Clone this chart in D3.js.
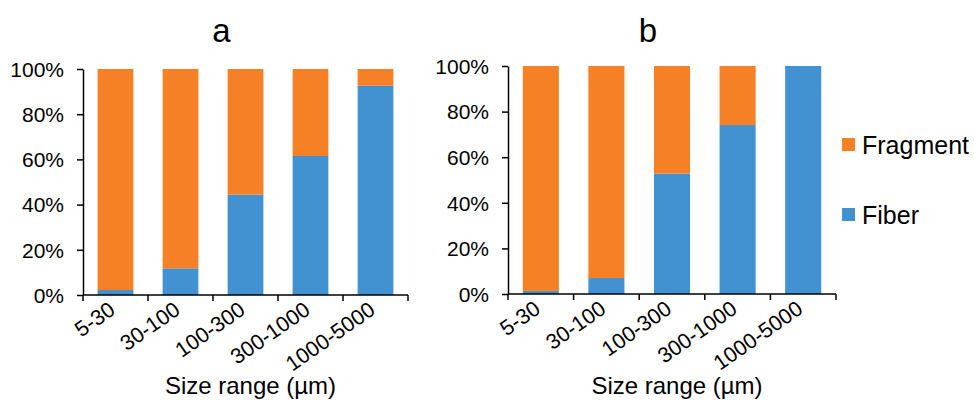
<!DOCTYPE html>
<html>
<head>
<meta charset="utf-8">
<script src="https://cdn.jsdelivr.net/npm/d3@7"></script>
<style>
  body { margin: 0; background: #fff; }
  text { font-family: "Liberation Sans", Arial, sans-serif; fill: #000; }
  .axis path, .axis line { stroke: #000; stroke-width: 1.5; }
</style>
</head>
<body>
<div id="chart"></div>
<script>
const sizeRanges = ["5-30", "30-100", "100-300", "300-1000", "1000-5000"];
const seriesNames = ["Fiber", "Fragment"];
const fiberA = [2.2, 11.8, 44.4, 61.5, 92.6];
const fiberB = [1.3, 7.0, 52.8, 74.1, 100];
const yTicks = [0, 20, 40, 60, 80, 100];

const color = d3.scaleOrdinal()
    .domain(seriesNames)
    .range(["#4291D1", "#F58026"]);

const svg = d3.select("#chart")
    .append("svg")
    .attr("width", 974)
    .attr("height", 401);

const panels = [
    { title: "a", fiber: fiberA, x0: 83, x1: 408, yTop: 69, yBot: 295 },
    { title: "b", fiber: fiberB, x0: 508, x1: 836, yTop: 66, yBot: 294 }
];

panels.forEach(p => {
    const g = svg.append("g");

    const x = d3.scaleBand()
        .domain(sizeRanges)
        .range([p.x0, p.x1])
        .paddingInner(0.45)
        .paddingOuter(0.225);

    const y = d3.scaleLinear()
        .domain([0, 100])
        .range([p.yBot, p.yTop]);

    const rows = sizeRanges.map((s, i) => ({ size: s, Fiber: p.fiber[i], Fragment: 100 - p.fiber[i] }));
    const stacked = d3.stack().keys(seriesNames)(rows);

    g.selectAll(".series")
        .data(stacked)
        .join("g")
        .attr("fill", d => color(d.key))
        .selectAll("rect")
        .data(d => d)
        .join("rect")
        .attr("x", d => x(d.data.size))
        .attr("width", x.bandwidth())
        .attr("y", d => y(d[1]))
        .attr("height", d => y(d[0]) - y(d[1]));

    // y axis
    const yAxis = g.append("g")
        .attr("class", "axis")
        .attr("transform", `translate(${p.x0},0)`)
        .call(d3.axisLeft(y).tickValues(yTicks).tickFormat(d => d + "%").tickSize(6).tickPadding(13).tickSizeOuter(0));
    yAxis.selectAll("text").style("font-size", "21px").attr("dy", "0.35em");

    // x axis line with ticks at band boundaries
    const step = x.step();
    g.append("line")
        .attr("x1", p.x0).attr("x2", p.x1)
        .attr("y1", p.yBot).attr("y2", p.yBot)
        .attr("stroke", "#000").attr("stroke-width", 1.5);
    const bounds = d3.range(sizeRanges.length + 1).map(i => p.x0 + i * step);
    g.selectAll(".xtick")
        .data(bounds)
        .join("line")
        .attr("x1", d => d).attr("x2", d => d)
        .attr("y1", p.yBot).attr("y2", p.yBot + 6)
        .attr("stroke", "#000").attr("stroke-width", 1.5);

    g.selectAll(".xlabel")
        .data(sizeRanges)
        .join("text")
        .attr("text-anchor", "end")
        .attr("transform", d => `translate(${x(d) + x.bandwidth() / 2 + 1},${p.yBot + 18}) rotate(-35)`)
        .style("font-size", "21.5px")
        .text(d => d);

    g.append("text")
        .attr("x", (p.x0 + p.x1) / 2 + 5)
        .attr("y", 394)
        .attr("text-anchor", "middle")
        .style("font-size", "24px")
        .text("Size range (µm)");

    g.append("text")
        .attr("x", (p.x0 + p.x1) / 2 - 24)
        .attr("y", 42)
        .attr("text-anchor", "middle")
        .style("font-size", "33px")
        .text(p.title);
});

// legend
const legend = svg.append("g");
const legendItems = [{ name: "Fragment", y: 145 }, { name: "Fiber", y: 215 }];
legend.selectAll("rect")
    .data(legendItems)
    .join("rect")
    .attr("x", 842).attr("y", d => d.y - 7)
    .attr("width", 13).attr("height", 13)
    .attr("fill", d => color(d.name));
legend.selectAll("text")
    .data(legendItems)
    .join("text")
    .attr("x", 862).attr("y", d => d.y + 9)
    .style("font-size", "25px")
    .text(d => d.name);
</script>
</body>
</html>
